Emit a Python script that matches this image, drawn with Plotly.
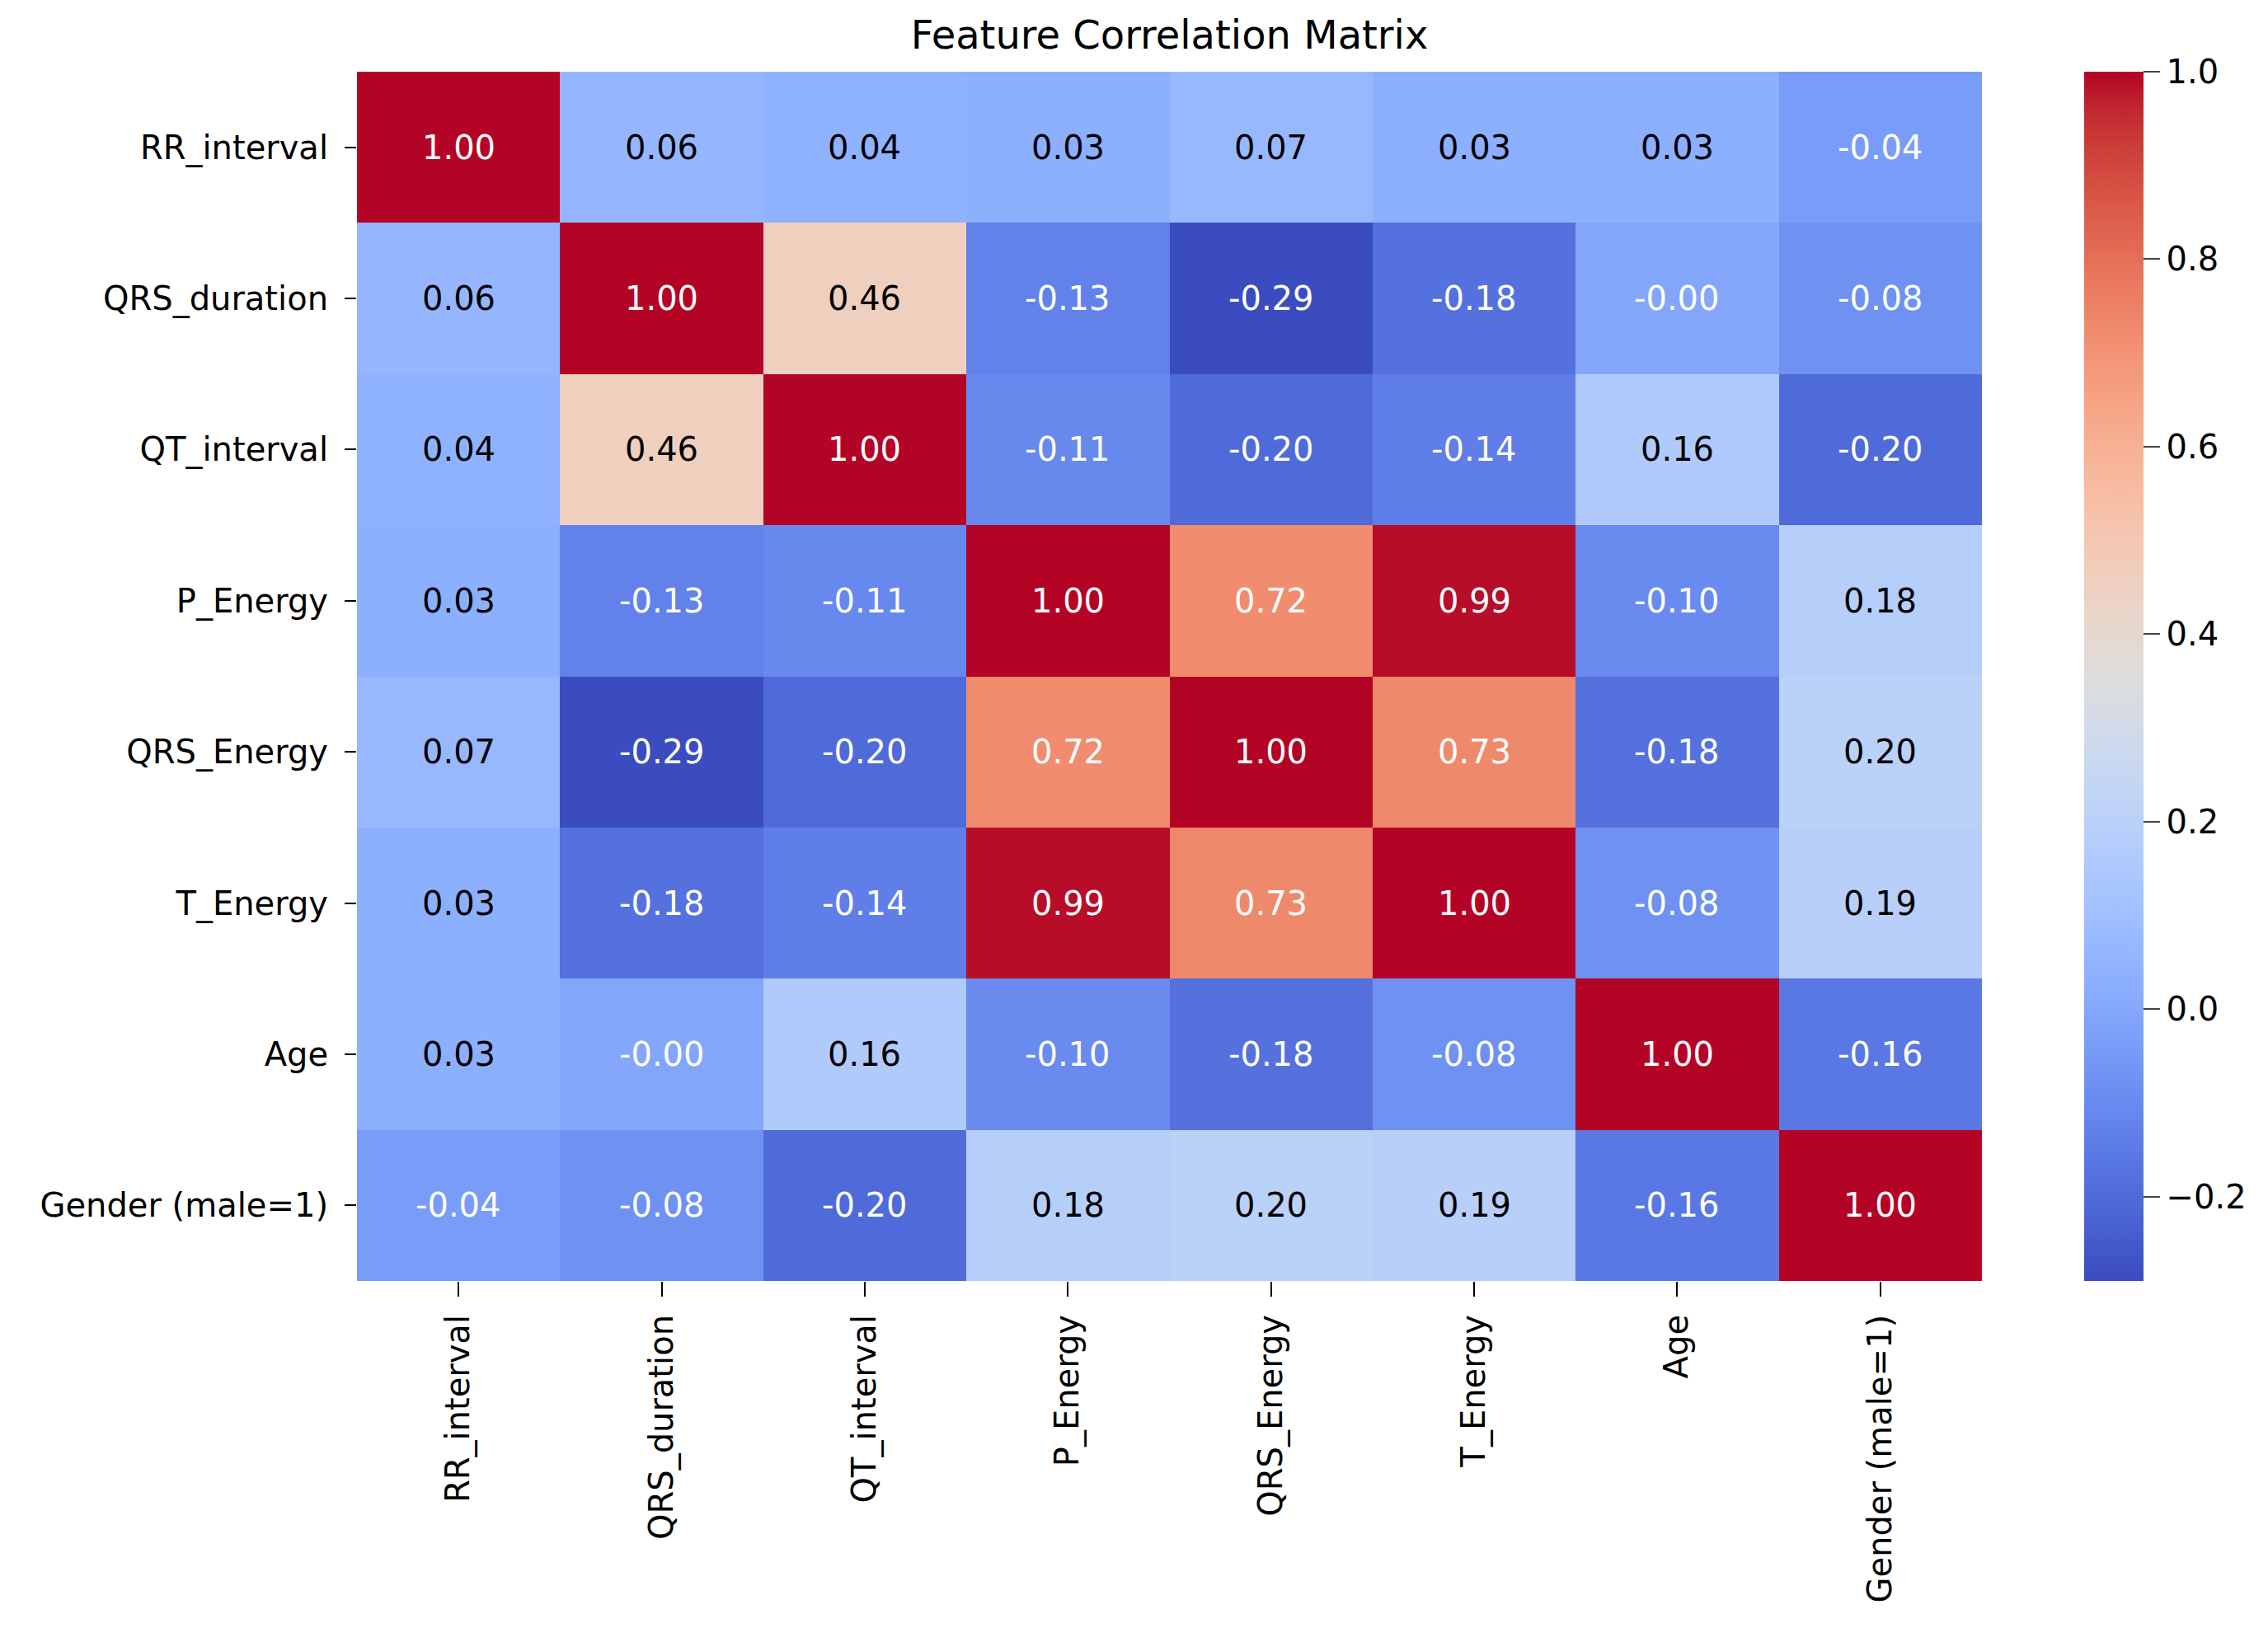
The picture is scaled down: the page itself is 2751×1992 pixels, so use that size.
import numpy as np
import plotly.graph_objects as go

# features (same order for rows and columns)
features = ['RR_interval', 'QRS_duration', 'QT_interval', 'P_Energy',
            'QRS_Energy', 'T_Energy', 'Age', 'Gender (male=1)']

# correlation rows
rr_interval  = [1.00, 0.06, 0.04, 0.03, 0.07, 0.03, 0.03, -0.04]
qrs_duration = [0.06, 1.00, 0.46, -0.13, -0.29, -0.18, -0.004, -0.08]
qt_interval  = [0.04, 0.46, 1.00, -0.11, -0.20, -0.14, 0.16, -0.20]
p_energy     = [0.03, -0.13, -0.11, 1.00, 0.72, 0.99, -0.10, 0.18]
qrs_energy   = [0.07, -0.29, -0.20, 0.72, 1.00, 0.73, -0.18, 0.20]
t_energy     = [0.03, -0.18, -0.14, 0.99, 0.73, 1.00, -0.08, 0.19]
age          = [0.03, -0.004, 0.16, -0.10, -0.18, -0.08, 1.00, -0.16]
gender       = [-0.04, -0.08, -0.20, 0.18, 0.20, 0.19, -0.16, 1.00]

cbar_ticks = [-0.2, 0.0, 0.2, 0.4, 0.6, 0.8, 1.0]

corr = np.array([rr_interval, qrs_duration, qt_interval, p_energy,
                 qrs_energy, t_energy, age, gender])

# matplotlib coolwarm
cw = [
    (0.2298057, 0.298717966, 0.753683153), (0.26623388, 0.353094838, 0.801466763),
    (0.30386891, 0.406535296, 0.84495867), (0.342804478, 0.458757618, 0.883725899),
    (0.38301334, 0.50941904, 0.917387822), (0.424369608, 0.558148092, 0.945619588),
    (0.46666708, 0.604562568, 0.968154911), (0.509635204, 0.648280772, 0.98478814),
    (0.552953156, 0.688929332, 0.995375608), (0.596262162, 0.726149107, 0.999836203),
    (0.639176211, 0.759599947, 0.998151185), (0.681291281, 0.788964712, 0.990363227),
    (0.722193294, 0.813952739, 0.976574709), (0.761464949, 0.834302879, 0.956945269),
    (0.798691636, 0.849786142, 0.931688648), (0.833466556, 0.860207984, 0.901068838),
    (0.865395197, 0.86541021, 0.865395561), (0.897787179, 0.848937047, 0.820880546),
    (0.924127593, 0.827384882, 0.774508472), (0.944468518, 0.800927443, 0.726736146),
    (0.958852946, 0.769767752, 0.678007945), (0.96732803, 0.734132809, 0.628751763),
    (0.969954137, 0.694266682, 0.579375448), (0.966811177, 0.650421156, 0.530263762),
    (0.958003065, 0.602842431, 0.481775914), (0.943660866, 0.551750968, 0.434243684),
    (0.923944917, 0.49730856, 0.387970225), (0.89904617, 0.439559467, 0.343229596),
    (0.869186849, 0.378313092, 0.300267182), (0.834620542, 0.312874446, 0.259301199),
    (0.795631745, 0.24128379, 0.220525627), (0.752534934, 0.157246067, 0.184115123),
    (0.705673158, 0.01555616, 0.150232812),
]
cw = np.array(cw)
stops = np.linspace(0, 1, len(cw))
colorscale = [[s, 'rgb(%d,%d,%d)' % tuple(np.round(c * 255))] for s, c in zip(stops, cw)]

zmin = corr.min()
zmax = 1.0

# text colour like seaborn: dark text on light cells
def text_color(v):
    t = (v - zmin) / (zmax - zmin)
    rgb = np.array([np.interp(t, stops, cw[:, k]) for k in range(3)])
    lin = np.where(rgb <= 0.03928, rgb / 12.92, ((rgb + 0.055) / 1.055) ** 2.4)
    lum = 0.2126 * lin[0] + 0.7152 * lin[1] + 0.0722 * lin[2]
    return 'black' if lum > 0.408 else 'white'

annotations = []
for i, row in enumerate(features):
    for j, col in enumerate(features):
        v = corr[i, j]
        annotations.append(dict(
            x=col, y=row, text=f'{v:.2f}', showarrow=False,
            font=dict(size=40, color=text_color(v), family='DejaVu Sans'),
        ))

fig = go.Figure(go.Heatmap(
    z=corr, x=features, y=features,
    colorscale=colorscale, zmin=zmin, zmax=zmax,
    colorbar=dict(
        x=1.063, xanchor='left', y=0, yanchor='bottom', xpad=0, ypad=0,
        len=1, lenmode='fraction', thickness=72, thicknessmode='pixels',
        outlinewidth=0, ticks='outside', ticklen=20, tickwidth=2,
        tickvals=cbar_ticks, tickformat='.1f',
        tickfont=dict(size=40, color='black', family='DejaVu Sans'),
    ),
))

# page body adds ~8px, so margins are trimmed by that
fig.update_layout(
    width=2751, height=1992,
    margin=dict(l=425, r=355, t=79, b=446),
    paper_bgcolor='white', plot_bgcolor='white',
    font=dict(family='DejaVu Sans', color='black'),
    title=dict(text='Feature Correlation Matrix', x=0.5, xref='paper',
               y=1 - 34 / 1992, yref='container', yanchor='middle',
               font=dict(size=48, color='black')),
    annotations=annotations,
)
fig.update_xaxes(tickangle=-90, ticks='outside', ticklen=18, tickwidth=2,
                 tickcolor='black', tickfont=dict(size=40), showgrid=False,
                 zeroline=False, showline=False, ticklabelstandoff=6)
fig.update_yaxes(autorange='reversed', ticks='outside', ticklen=14, tickwidth=2,
                 tickcolor='black', tickfont=dict(size=40), showgrid=False,
                 zeroline=False, showline=False, ticklabelstandoff=12)

fig.write_html('out.html')
